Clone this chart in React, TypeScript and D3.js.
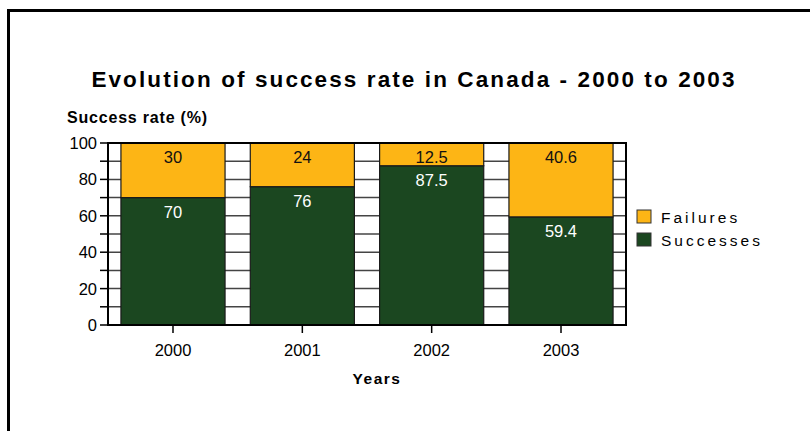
import React from "react";
import * as d3 from "d3";

const years = ["2000", "2001", "2002", "2003"];
const successes = [70, 76, 87.5, 59.4];
const failures = [30, 24, 12.5, 40.6];
const yTicks = [0, 20, 40, 60, 80, 100];
const gridValues = [10, 20, 30, 40, 50, 60, 70, 80, 90];
const seriesNames = ["Failures", "Successes"];

const ORANGE = "#FDB515";
const GREEN = "#1B4720";
const FONT = "'Liberation Sans', Arial, Helvetica, sans-serif";

export default function App() {
  const W = 810, H = 431;
  const left = 108, right = 626, top = 143, bottom = 325;
  const x = d3.scaleBand<string>().domain(years).range([left, right]).paddingInner(0.195).paddingOuter(0.1);
  const y = d3.scaleLinear().domain([0, 100]).range([bottom, top]);
  const minor = d3.range(0, 101, 10);

  return (
    <svg width={W} height={H} style={{ position: "absolute", left: 0, top: 0, background: "#fff" }} fontFamily={FONT}>
      <rect x={0} y={0} width={W} height={H} fill="#fff" />
      {/* frame */}
      <path d={`M8.5,${H + 5} L8.5,10.5 L${W + 5},10.5`} fill="none" stroke="#000" strokeWidth={3} />

      <text x={414} y={87} textAnchor="middle" fontSize={22.5} fontWeight="bold" letterSpacing={2.1} fill="#000">
        Evolution of success rate in Canada - 2000 to 2003
      </text>
      <text x={67} y={123} fontSize={16} fontWeight="bold" letterSpacing={0.8} fill="#000">
        Success rate (%)
      </text>

      {/* gridlines */}
      {gridValues.map((v) => (
        <line key={v} x1={left} x2={right} y1={y(v)} y2={y(v)} stroke="#444" strokeWidth={1.5} />
      ))}

      {/* bars */}
      {years.map((yr, i) => {
        const bx = x(yr)!;
        const bw = x.bandwidth();
        const s = successes[i], f = failures[i];
        return (
          <g key={yr}>
            <rect x={bx} y={y(s)} width={bw} height={y(0) - y(s)} fill={GREEN} stroke="#1a1a1a" strokeWidth={1.2} />
            <rect x={bx} y={y(s + f)} width={bw} height={y(s) - y(s + f)} fill={ORANGE} stroke="#1a1a1a" strokeWidth={1.2} />
            <text x={bx + bw / 2} y={y(s + f) + 20} textAnchor="middle" fontSize={16.5} fill="#111">{String(f)}</text>
            <text x={bx + bw / 2} y={y(s) + 20} textAnchor="middle" fontSize={16.5} fill="#fff">{String(s)}</text>
          </g>
        );
      })}

      {/* plot border */}
      <rect x={left} y={top} width={right - left} height={bottom - top} fill="none" stroke="#000" strokeWidth={2} />

      {/* y axis ticks */}
      {minor.map((v) => (
        <line key={v} x1={100} x2={left} y1={y(v)} y2={y(v)} stroke="#000" strokeWidth={1.5} />
      ))}
      {yTicks.map((v) => (
        <text key={v} x={97} y={y(v) + 6} textAnchor="end" fontSize={16.5} fill="#000">{v}</text>
      ))}

      {/* x axis ticks */}
      {years.map((yr) => {
        const cx = x(yr)! + x.bandwidth() / 2;
        return (
          <g key={yr}>
            <line x1={cx} x2={cx} y1={bottom} y2={bottom + 8} stroke="#000" strokeWidth={1.5} />
            <text x={cx} y={356} textAnchor="middle" fontSize={16.5} fill="#000">{yr}</text>
          </g>
        );
      })}
      <text x={377} y={384} textAnchor="middle" fontSize={15.5} fontWeight="bold" letterSpacing={1.5} fill="#000">Years</text>

      {/* legend */}
      {seriesNames.map((n, i) => (
        <g key={n}>
          <rect x={637} y={210 + i * 23} width={14} height={13} fill={i === 0 ? ORANGE : GREEN} stroke="#333" strokeWidth={1} />
          <text x={661} y={223 + i * 23} fontSize={15.5} letterSpacing={3} fill="#000">{n}</text>
        </g>
      ))}
    </svg>
  );
}
